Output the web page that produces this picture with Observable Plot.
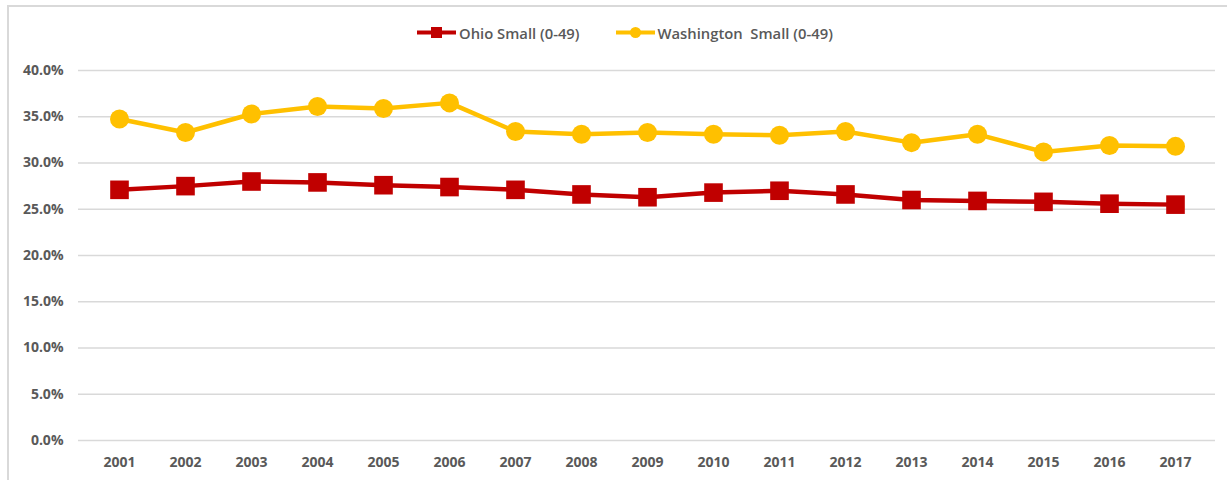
<!DOCTYPE html>
<html><head><meta charset="utf-8">
<script src="https://cdn.jsdelivr.net/npm/d3@7"></script>
<script src="https://cdn.jsdelivr.net/npm/@observablehq/plot@0.6"></script>
<style>
body{margin:0;background:#fff;}
#wrap{position:relative;width:1227px;height:480px;overflow:hidden;font-family:"Open Sans",sans-serif;}
#chart{position:absolute;left:0;top:0;}
#frame{position:absolute;left:7px;top:5px;width:1260px;height:520px;border:2px solid #d9d9d9;box-sizing:border-box;pointer-events:none;}
#legend{position:absolute;top:22px;left:417px;display:flex;align-items:center;font-size:14.8px;font-weight:600;color:#595959;white-space:pre;}
#legend .item{display:flex;align-items:center;margin-right:36px;}
#legend svg{margin-right:3px;}
</style></head>
<body>
<div id="wrap"><div id="chart"></div><div id="frame"></div><div id="legend"></div></div>
<script>
const years = ["2001","2002","2003","2004","2005","2006","2007","2008","2009","2010","2011","2012","2013","2014","2015","2016","2017"];
const seriesNames = ["Ohio Small (0-49)", "Washington  Small (0-49)"];
const ohio = [27.1, 27.5, 28.0, 27.9, 27.6, 27.4, 27.1, 26.6, 26.3, 26.8, 27.0, 26.6, 26.0, 25.9, 25.8, 25.6, 25.5];
const washington = [34.75, 33.3, 35.3, 36.1, 35.9, 36.5, 33.4, 33.1, 33.3, 33.1, 33.0, 33.4, 32.2, 33.1, 31.2, 31.9, 31.8];
const yTicks = [0, 5, 10, 15, 20, 25, 30, 35, 40];
const colors = ["#C00000", "#FFC000"];

const data = [];
years.forEach((yr, i) => {
  data.push({year: yr, value: ohio[i], series: seriesNames[0]});
  data.push({year: yr, value: washington[i], series: seriesNames[1]});
});
const ohioData = data.filter(d => d.series === seriesNames[0]);
const waData = data.filter(d => d.series === seriesNames[1]);

const chart = Plot.plot({
  width: 1227, height: 480,
  marginLeft: 78, marginRight: 12, marginTop: 70, marginBottom: 40,
  x: {type: "point", domain: years, padding: 0, range: [112.5, 1181.5], label: null},
  y: {domain: [0, 40], label: null},
  style: {fontFamily: "'Open Sans', sans-serif", fontSize: "14px", fontWeight: 700, color: "#595959", background: "none"},
  marks: [
    Plot.ruleY(yTicks, {stroke: "#d9d9d9", strokeWidth: 1.5, strokeOpacity: 1}),
    Plot.axisY({ticks: yTicks, tickSize: 0, tickPadding: 15, tickFormat: d => d.toFixed(1) + "%", fill: "#595959"}),
    Plot.axisX({tickSize: 0, tickPadding: 17, fill: "#595959"}),
    Plot.line(waData, {x: "year", y: "value", stroke: colors[1], strokeWidth: 4.5}),
    Plot.dot(waData, {x: "year", y: "value", fill: colors[1], r: 9.5, symbol: "circle"}),
    Plot.line(ohioData, {x: "year", y: "value", stroke: colors[0], strokeWidth: 4.5}),
    Plot.dot(ohioData, {x: "year", y: "value", fill: colors[0], r: 10.5, symbol: "square"})
  ]
});
document.getElementById("chart").appendChild(chart);

const legend = document.getElementById("legend");
seriesNames.forEach((name, i) => {
  const item = document.createElement("div");
  item.className = "item";
  const marker = i === 0
    ? `<rect x="14" y="5" width="11" height="11" fill="${colors[0]}"/>`
    : `<circle cx="19.5" cy="10.5" r="5.5" fill="${colors[1]}"/>`;
  item.innerHTML = `<svg width="39" height="21"><line x1="0" x2="39" y1="10.5" y2="10.5" stroke="${colors[i]}" stroke-width="4"/>${marker}</svg><span>${name}</span>`;
  legend.appendChild(item);
});
</script>
</body></html>
